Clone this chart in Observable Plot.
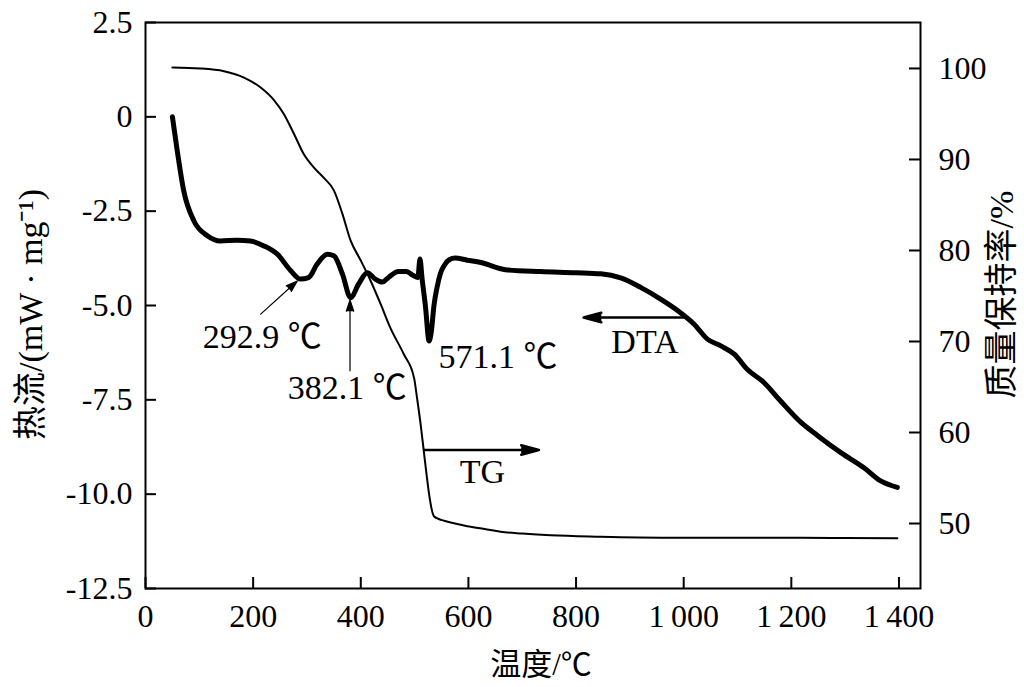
<!DOCTYPE html>
<html><head><meta charset="utf-8">
<script src="https://cdn.jsdelivr.net/npm/d3@7"></script>
<script src="https://cdn.jsdelivr.net/npm/@observablehq/plot@0.6"></script>
<style>body{margin:0;background:#fff;}</style>
</head><body><div id="chart"></div>
<script>
// DTA curve: temperature (°C) and heat flow (mW·mg⁻¹)
const dtaTemp = [50, 59, 71, 90, 115, 139, 170, 195, 220, 245, 270, 288, 303, 319, 338, 350, 366, 381, 396, 412, 427, 440, 452, 470, 485, 497, 506, 510, 514, 520, 527, 531, 536, 542, 548, 556, 565, 575, 598, 623, 669, 734, 800, 846, 883, 920, 957, 994, 1019, 1044, 1069, 1094, 1118, 1149, 1180, 1218, 1249, 1292, 1335, 1366, 1397];
const dtaHeat = [0, -0.90, -1.96, -2.76, -3.15, -3.29, -3.27, -3.29, -3.42, -3.64, -4.08, -4.30, -4.26, -3.90, -3.64, -3.68, -4.17, -4.79, -4.43, -4.13, -4.30, -4.38, -4.25, -4.10, -4.10, -4.20, -4.26, -3.77, -4.30, -5.00, -5.94, -5.70, -5.00, -4.50, -4.15, -3.92, -3.78, -3.74, -3.80, -3.86, -4.05, -4.10, -4.13, -4.16, -4.27, -4.52, -4.83, -5.19, -5.49, -5.89, -6.07, -6.29, -6.69, -7.04, -7.53, -8.10, -8.45, -8.90, -9.30, -9.65, -9.82];

// TG curve: temperature (°C) and mass retention (%)
const tgTemp = [50, 102, 146, 183, 214, 239, 257, 276, 294, 313, 331, 350, 366, 381, 400, 418, 437, 455, 480, 499, 505, 511, 517, 522, 527, 532, 536, 545, 555, 575, 598, 630, 660, 700, 753, 846, 970, 1100, 1218, 1300, 1397];
const tgMass = [100.1, 100.0, 99.7, 99.0, 97.9, 96.5, 95.0, 92.8, 90.6, 89.1, 88.0, 86.6, 84.0, 81.1, 78.9, 76.7, 74.1, 71.5, 68.6, 66.0, 63.6, 61.0, 58.0, 55.5, 53.2, 51.5, 50.8, 50.5, 50.3, 50.0, 49.7, 49.4, 49.1, 48.9, 48.7, 48.55, 48.45, 48.45, 48.44, 48.4, 48.37];

// Axes
const xTicks = [0, 200, 400, 600, 800, 1000, 1200, 1400];
const xTickLabels = ["0", "200", "400", "600", "800", "1\u2009000", "1\u2009200", "1\u2009400"];
const leftTicks = [2.5, 0, -2.5, -5, -7.5, -10, -12.5];
const rightTicks = [50, 60, 70, 80, 90, 100];
const xDomain = [0, 1440];
const leftDomain = [-12.5, 2.5];
const rightDomain = [42.86, 105.05];

// Annotations (data units: °C, heat flow)
const annText = ["292.9 ℃", "382.1 ℃", "571.1 ℃", "DTA", "TG"];
const annX = [217, 375, 655, 928, 626];
const annY = [-5.85, -7.19, -6.36, -5.98, -9.42];
const pointerX1 = [214, 380];
const pointerY1 = [-5.23, -6.73];
const pointerX2 = [282, 380];
const pointerY2 = [-4.35, -4.85];
const seriesArrowX1 = [1000, 518];
const seriesArrowX2 = [814, 731];
const seriesArrowY = [-5.32, -8.83];

const toLeft = w => leftDomain[0] + (w - rightDomain[0]) / (rightDomain[1] - rightDomain[0]) * (leftDomain[1] - leftDomain[0]);
const fromLeft = v => rightDomain[0] + (v - leftDomain[0]) / (leftDomain[1] - leftDomain[0]) * (rightDomain[1] - rightDomain[0]);

const dta = dtaTemp.map((t, i) => ({t, v: dtaHeat[i]}));
const tg = tgTemp.map((t, i) => ({t, v: toLeft(tgMass[i])}));
const ann = annText.map((s, i) => ({s, x: annX[i], y: annY[i]}));
const pointers = pointerX1.map((x, i) => ({x1: x, y1: pointerY1[i], x2: pointerX2[i], y2: pointerY2[i]}));
const seriesArrows = seriesArrowX1.map((x, i) => ({x1: x, x2: seriesArrowX2[i], y: seriesArrowY[i]}));

const W = 1024, H = 687, mL = 145, mR = 104, mT = 22, mB = 99;
const fw = W - mL - mR, fh = H - mT - mB, tl = 11;
const font = "'Liberation Serif', 'Noto Sans CJK SC', serif";

const chart = Plot.plot({
  width: W, height: H,
  marginLeft: mL, marginRight: mR, marginTop: mT, marginBottom: mB,
  style: {fontFamily: font, fontSize: "32px", color: "black", background: "white"},
  x: {domain: xDomain},
  y: {domain: leftDomain},
  marks: [
    Plot.tickY(leftTicks, {y: d => d, insetRight: fw - tl, strokeWidth: 2}),
    Plot.tickY(rightTicks.map(toLeft), {y: d => d, insetLeft: fw - tl, strokeWidth: 2}),
    Plot.tickX(xTicks, {x: d => d, insetTop: fh - tl, strokeWidth: 2}),
    Plot.axisY(leftTicks, {anchor: "left", tickSize: 0, tickPadding: 13, fontSize: 32, label: null,
      tickFormat: d => d === 0 ? "0" : d.toFixed(1)}),
    Plot.axisY(rightTicks.map(toLeft), {anchor: "right", tickSize: 0, tickPadding: 18, fontSize: 32, label: null,
      tickFormat: d => String(Math.round(fromLeft(d)))}),
    Plot.axisX(xTicks, {anchor: "bottom", tickSize: 0, tickPadding: 16, fontSize: 32, label: null,
      tickFormat: d => xTickLabels[xTicks.indexOf(d)]}),
    Plot.line(tg, {x: "t", y: "v", stroke: "black", strokeWidth: 2, curve: "monotone-x"}),
    Plot.line(dta, {x: "t", y: "v", stroke: "black", strokeWidth: 5, curve: "monotone-x", strokeLinejoin: "round", strokeLinecap: "round"}),
    Plot.arrow(pointers, {x1: "x1", y1: "y1", x2: "x2", y2: "y2", stroke: "black", fill: "black", strokeWidth: 1.2, headLength: 15, headAngle: 36, strokeLinejoin: "miter"}),
    Plot.arrow(seriesArrows, {x1: "x1", y1: "y", x2: "x2", y2: "y", stroke: "black", fill: "black", strokeWidth: 2.5, headLength: 11, headAngle: 30, strokeLinejoin: "miter"}),
    Plot.text(ann, {x: "x", y: "y", text: "s", fontSize: 34, fill: "black", textAnchor: "middle", lineAnchor: "middle"}),
    Plot.text(["温度/℃"], {text: d => d, frameAnchor: "bottom", dx: 8, dy: 77, fontSize: 31, fill: "black", textAnchor: "middle", lineAnchor: "middle"}),
    Plot.text(["热流/(mW · mg⁻¹)"], {text: d => d, frameAnchor: "left", dx: -114, dy: 9, rotate: -90, fontSize: 34, fill: "black", textAnchor: "middle", lineAnchor: "middle"}),
    Plot.text(["质量保持率/%"], {text: d => d, frameAnchor: "right", dx: 82, dy: -11, rotate: -90, fontSize: 34, fill: "black", textAnchor: "middle", lineAnchor: "middle"}),
    Plot.frame({stroke: "black", strokeWidth: 2})
  ]
});
document.getElementById("chart").appendChild(chart);
</script>
</body></html>
